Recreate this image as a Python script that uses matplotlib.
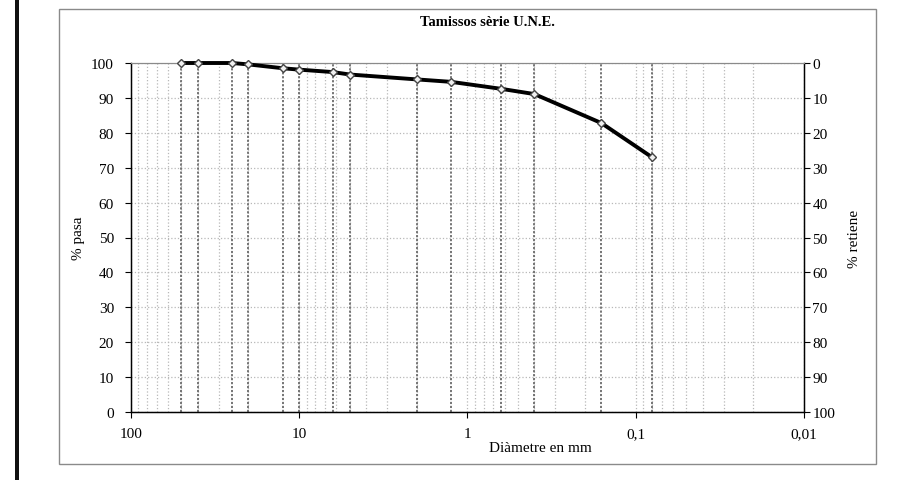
import matplotlib
matplotlib.use("Agg")
import matplotlib.pyplot as plt
from matplotlib.patches import Rectangle
from matplotlib.ticker import FixedLocator, FixedFormatter, NullFormatter, LogLocator

# ---- data ----
title = "Tamissos sèrie U.N.E."
xlabel = "Diàmetre en mm"
ylabel_left = "% pasa"
ylabel_right = "% retiene"
sieve_sizes = [50, 40, 25, 20, 12.5, 10, 6.3, 5, 2, 1.25, 0.63, 0.4, 0.16, 0.08]
passing = [100, 100, 100, 99.6, 98.5, 98.1, 97.4, 96.7, 95.3, 94.6, 92.6, 91.1, 82.8, 73.0]
x_ticks = [100, 10, 1, 0.1, 0.01]
x_ticklabels = ["100", "10", "1", "0,1", "0,01"]
y_ticks = list(range(0, 101, 10))

plt.rcParams['font.family'] = ['Liberation Serif', 'DejaVu Serif']
plt.rcParams['font.size'] = 11

W, H = 903, 481
fig = plt.figure(figsize=(W / 100, H / 100), dpi=100)

# outer frame and left black bar
fig.patches.append(Rectangle((59 / W, 1 - 465 / H), (876 - 59) / W, (465 - 10) / H,
                             transform=fig.transFigure, fill=False,
                             edgecolor='#8a8a8a', lw=1.0))
fig.patches.append(Rectangle((15 / W, 0), 4 / W, 1, transform=fig.transFigure,
                             facecolor='#111111', edgecolor='none'))

L, R, T, B = 130.7, 804, 64, 413
ax = fig.add_axes([L / W, 1 - B / H, (R - L) / W, (B - T) / H])
ax.set_xscale('log')
ax.set_xlim(100, 0.01)
ax.set_ylim(0, 100)

# grid
ax.xaxis.set_major_locator(FixedLocator(x_ticks))
ax.xaxis.set_major_formatter(FixedFormatter(x_ticklabels))
ax.xaxis.set_minor_locator(LogLocator(base=10, subs=range(2, 10), numticks=20))
ax.xaxis.set_minor_formatter(NullFormatter())
ax.set_yticks(y_ticks)
ax.grid(which='major', axis='both', color='#b8b8b8', ls=':', lw=0.9)
ax.grid(which='minor', axis='x', color='#b8b8b8', ls=':', lw=0.9)
ax.set_axisbelow(True)

# sieve lines
for s in sieve_sizes:
    ax.axvline(s, color='#6a6a6a', ls=(0, (1.2, 1.0)), lw=1.3, zorder=1.5)

for sp in ['left', 'bottom', 'right']:
    ax.spines[sp].set_color('black')
    ax.spines[sp].set_linewidth(1.0)
ax.spines['top'].set_color('#8a8a8a')

ax.tick_params(which='major', direction='out', length=4, width=0.8, labelsize=11)
ax.tick_params(axis='y', pad=8)
ax.tick_params(axis='x', pad=7)
ax.tick_params(which='minor', length=0)

ax.set_xlabel(xlabel, fontsize=11)
ax.xaxis.set_label_coords(0.608, -0.083)
ax.set_ylabel(ylabel_left, fontsize=11)
ax.yaxis.set_label_coords(-0.068, 0.5)

ax2 = ax.twinx()
ax2.set_ylim(100, 0)
ax2.set_yticks(y_ticks)
ax2.tick_params(direction='out', length=4, width=0.8, labelsize=11, pad=2)
ax2.spines['right'].set_color('black')
ax2.spines['top'].set_color('#8a8a8a')
ax2.set_ylabel(ylabel_right, fontsize=11)
ax2.yaxis.set_label_coords(1.065, 0.5)

# data curve on top of everything, markers not clipped at the 100 line
ax2.set_zorder(0)
ax.set_zorder(1)
ax.patch.set_visible(False)
ax.plot(sieve_sizes, passing, color='black', lw=2.8, zorder=5, clip_on=False,
        marker='D', ms=4.5, mfc='#f0f0f0', mec='#444444', mew=1.0)

fig.text(487 / W, 1 - 23 / H, title, ha='center', va='center',
         fontsize=10.5, fontweight='bold')

fig.savefig("out.png", dpi=100)
